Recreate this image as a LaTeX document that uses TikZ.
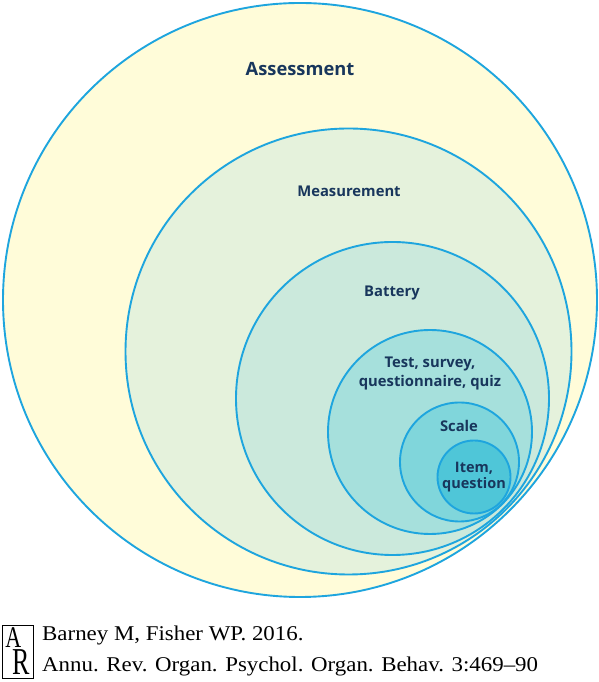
\documentclass[tikz,border=0pt]{standalone}
\usepackage{fontspec}
\usepackage{xcolor}
\setmainfont{Liberation Serif}
\newfontfamily\labelfont{Open Sans Bold}
\usetikzlibrary{positioning}

\definecolor{ringblue}{RGB}{30,165,222}
\definecolor{navytext}{RGB}{24,54,92}
\definecolor{assessfill}{RGB}{255,252,217}
\definecolor{measurefill}{RGB}{229,242,220}
\definecolor{batteryfill}{RGB}{203,233,220}
\definecolor{testfill}{RGB}{166,224,220}
\definecolor{scalefill}{RGB}{128,214,219}
\definecolor{itemfill}{RGB}{79,198,216}

\begin{document}
\begin{tikzpicture}[
    x=1pt, y=1pt,
    ring/.style={circle, draw=ringblue, line width=1.9pt, inner sep=0pt},
    lbl/.style={text=navytext, align=center, font=\labelfont\fontsize{14.8}{19}\selectfont},
    cite/.style={anchor=base west, inner sep=0pt, font=\fontsize{21}{22}\selectfont},
]
\useasboundingbox (0,0) rectangle (599,682);

% Nested circles
\node[ring, fill=assessfill, minimum size=594pt] (assessment) at (300,382) {};
\node[ring, fill=measurefill, minimum size=446pt] (measurement) at (348.5,330.5) {};
\node[ring, fill=batteryfill, minimum size=313pt] (battery) at (392.5,283.5) {};
\node[ring, fill=testfill, minimum size=204pt] (test) at (430,250) {};
\node[ring, fill=scalefill, minimum size=119pt] (scale) at (459.5,220) {};
\node[ring, fill=itemfill, minimum size=73pt] (item) at (474,205) {};

% Labels
\node[lbl, font=\labelfont\fontsize{18.3}{22}\selectfont] (assesslbl) at (300,613) {Assessment};
\node[lbl] (measurelbl) at (349,491) {Measurement};
\node[lbl] (batterylbl) at (392,389) {Battery};
\node[lbl] (testlbl) at (430,309) {Test, survey,\\questionnaire, quiz};
\node[lbl] (scalelbl) at (459,256) {Scale};
\node[lbl, font=\labelfont\fontsize{14.5}{16.5}\selectfont] (itemlbl) at (474,205) {Item,\\question};

% Citation
\node[draw, line width=0.6pt, minimum width=31pt, minimum height=53pt, inner sep=0pt] (logo) at (17.5,30.5) {};
\node[inner sep=0pt, align=left, font=\fontsize{20}{27}\selectfont] (logoar) at (logo.center)
    {\scalebox{1.1}[1.5]{A}\\\hspace*{7pt}\scalebox{1.3}[1.9]{R}};
\node[cite] (citeone) at (42,41) {\scalebox{1.09}[1]{Barney M, Fisher WP. 2016.}};
\node[cite] (citetwo) at (42,10) {\scalebox{1.09}[1]{Annu. Rev. Organ. Psychol. Organ. Behav. 3:469--90}};

\end{tikzpicture}
\end{document}
